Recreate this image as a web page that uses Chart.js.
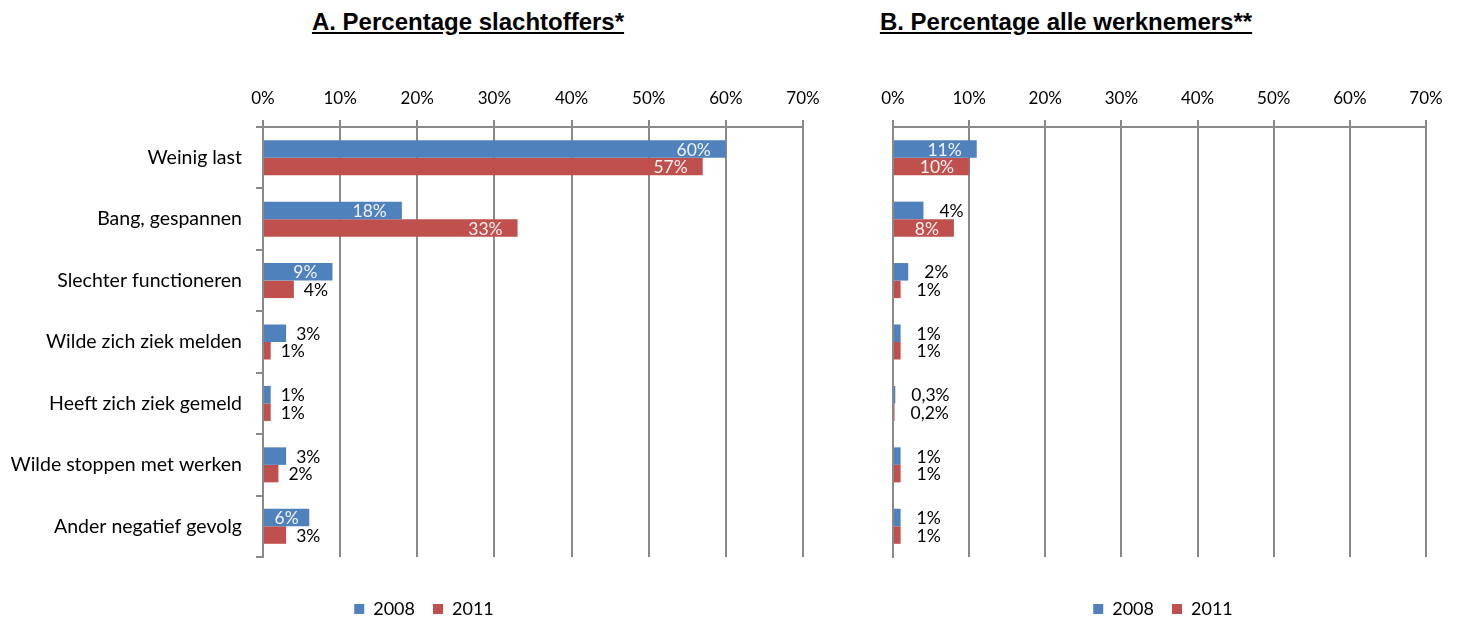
<!DOCTYPE html>
<html>
<head>
<meta charset="utf-8">
<script src="https://cdn.jsdelivr.net/npm/chart.js@4/dist/chart.umd.min.js"></script>
<style>
  html, body { margin: 0; padding: 0; background: #fff; overflow: hidden; }
  #wrap { position: relative; width: 1461px; height: 619px; overflow: hidden; }
  .title {
    position: absolute; top: 8px; width: 440px; text-align: center;
    font: bold 24px "Liberation Sans", Arial, sans-serif; line-height: 28px;
    text-decoration: underline; color: #000;
  }
  canvas { position: absolute; top: 0; }
</style>
</head>
<body>
<div id="wrap">
  <div class="title" style="left:248px">A. Percentage slachtoffers*</div>
  <div class="title" style="left:846px">B. Percentage alle werknemers**</div>
  <canvas id="chartA" width="848" height="628" style="left:0"></canvas>
  <canvas id="chartB" width="596" height="628" style="left:865px"></canvas>
</div>
<script>
// categories (top to bottom)
const categories = [
  "Weinig last",
  "Bang, gespannen",
  "Slechter functioneren",
  "Wilde zich ziek melden",
  "Heeft zich ziek gemeld",
  "Wilde stoppen met werken",
  "Ander negatief gevolg"
];
const years = ["2008", "2011"];

// A. slachtoffers
const victims2008 = [60, 18, 9, 3, 1, 3, 6];
const victims2011 = [57, 33, 4, 1, 1, 2, 3];

// B. alle werknemers
const all2008 = [11, 4, 2, 1, 0.3, 1, 1];
const all2011 = [10, 8, 1, 1, 0.2, 1, 1];

// value axis
const axisMax = 70;
const axisStep = 10;

const blue = "#4F81BD";
const red = "#C0504D";
const gridColor = "#898989";

Chart.defaults.font.family = "Lato, 'Open Sans', sans-serif";
Chart.defaults.font.size = 17;
Chart.defaults.color = "#000";

function fmt(v) {
  if (v < 1) return v.toFixed(1).replace(".", ",") + "%";
  return v + "%";
}

// data labels: inside end (light) when the bar is wide enough, else just past the bar
const barLabels = {
  id: "barLabels",
  afterDatasetsDraw(chart, args, opts) {
    const ctx = chart.ctx;
    ctx.save();
    ctx.font = "17.5px Lato, 'Open Sans', sans-serif";
    ctx.textBaseline = "middle";
    chart.data.datasets.forEach((ds, i) => {
      const meta = chart.getDatasetMeta(i);
      meta.data.forEach((bar, j) => {
        const txt = fmt(ds.data[j]);
        const tw = ctx.measureText(txt).width;
        const w = bar.x - bar.base;
        if (w >= tw + 16) {
          ctx.fillStyle = "#f2f2f2";
          ctx.textAlign = "right";
          ctx.fillText(txt, bar.x - Math.min(15, (w - tw) / 2), bar.y + 1);
        } else {
          ctx.fillStyle = "#000";
          ctx.textAlign = "left";
          ctx.fillText(txt, bar.x + opts.offset, bar.y + 1);
        }
      });
    });
    ctx.restore();
  }
};

function makeChart(id, d2008, d2011, yWidth, showCats, rightSpace, outsideOffset) {
  return new Chart(document.getElementById(id), {
    type: "bar",
    data: {
      labels: categories,
      datasets: [
        { label: years[0], data: d2008, backgroundColor: blue, borderWidth: 0 },
        { label: years[1], data: d2011, backgroundColor: red, borderWidth: 0 }
      ]
    },
    options: {
      indexAxis: "y",
      responsive: false,
      animation: false,
      categoryPercentage: 0.57,
      barPercentage: 1,
      layout: { padding: { top: 60, right: 0, left: 0, bottom: 0 } },
      scales: {
        x: {
          position: "top",
          min: 0,
          max: axisMax,
          ticks: { stepSize: axisStep, padding: 11, callback: v => v + "%" },
          grid: { color: gridColor, lineWidth: 2, tickLength: 7 },
          border: { display: true, color: gridColor, width: 2 },
          afterFit: s => { s.height = 67; }
        },
        y: {
          ticks: { display: showCats, padding: 14, font: { size: 19.5 } },
          grid: { display: showCats, drawOnChartArea: false, color: gridColor, lineWidth: 2, tickLength: 7 },
          border: { display: true, color: gridColor, width: 2 },
          afterFit: s => { s.width = yWidth; }
        },
        // empty space at the right of the plot, keeps the legend centred on the canvas
        yRight: {
          type: "category",
          position: "right",
          ticks: { display: false },
          grid: { display: false },
          border: { display: false },
          afterFit: s => { s.width = rightSpace; }
        }
      },
      plugins: {
        legend: {
          position: "bottom",
          title: { display: true, text: " ", font: { size: 10, lineHeight: 1 }, padding: { top: 15, bottom: 0 } },
          labels: { boxWidth: 10, boxHeight: 10, padding: 18, font: { size: 18 } }
        },
        tooltip: { enabled: false },
        barLabels: { offset: outsideOffset }
      }
    },
    plugins: [barLabels]
  });
}

makeChart("chartA", victims2008, victims2011, 263, true, 45, 10);
makeChart("chartB", all2008, all2011, 28, false, 35, 16);
</script>
</body>
</html>
